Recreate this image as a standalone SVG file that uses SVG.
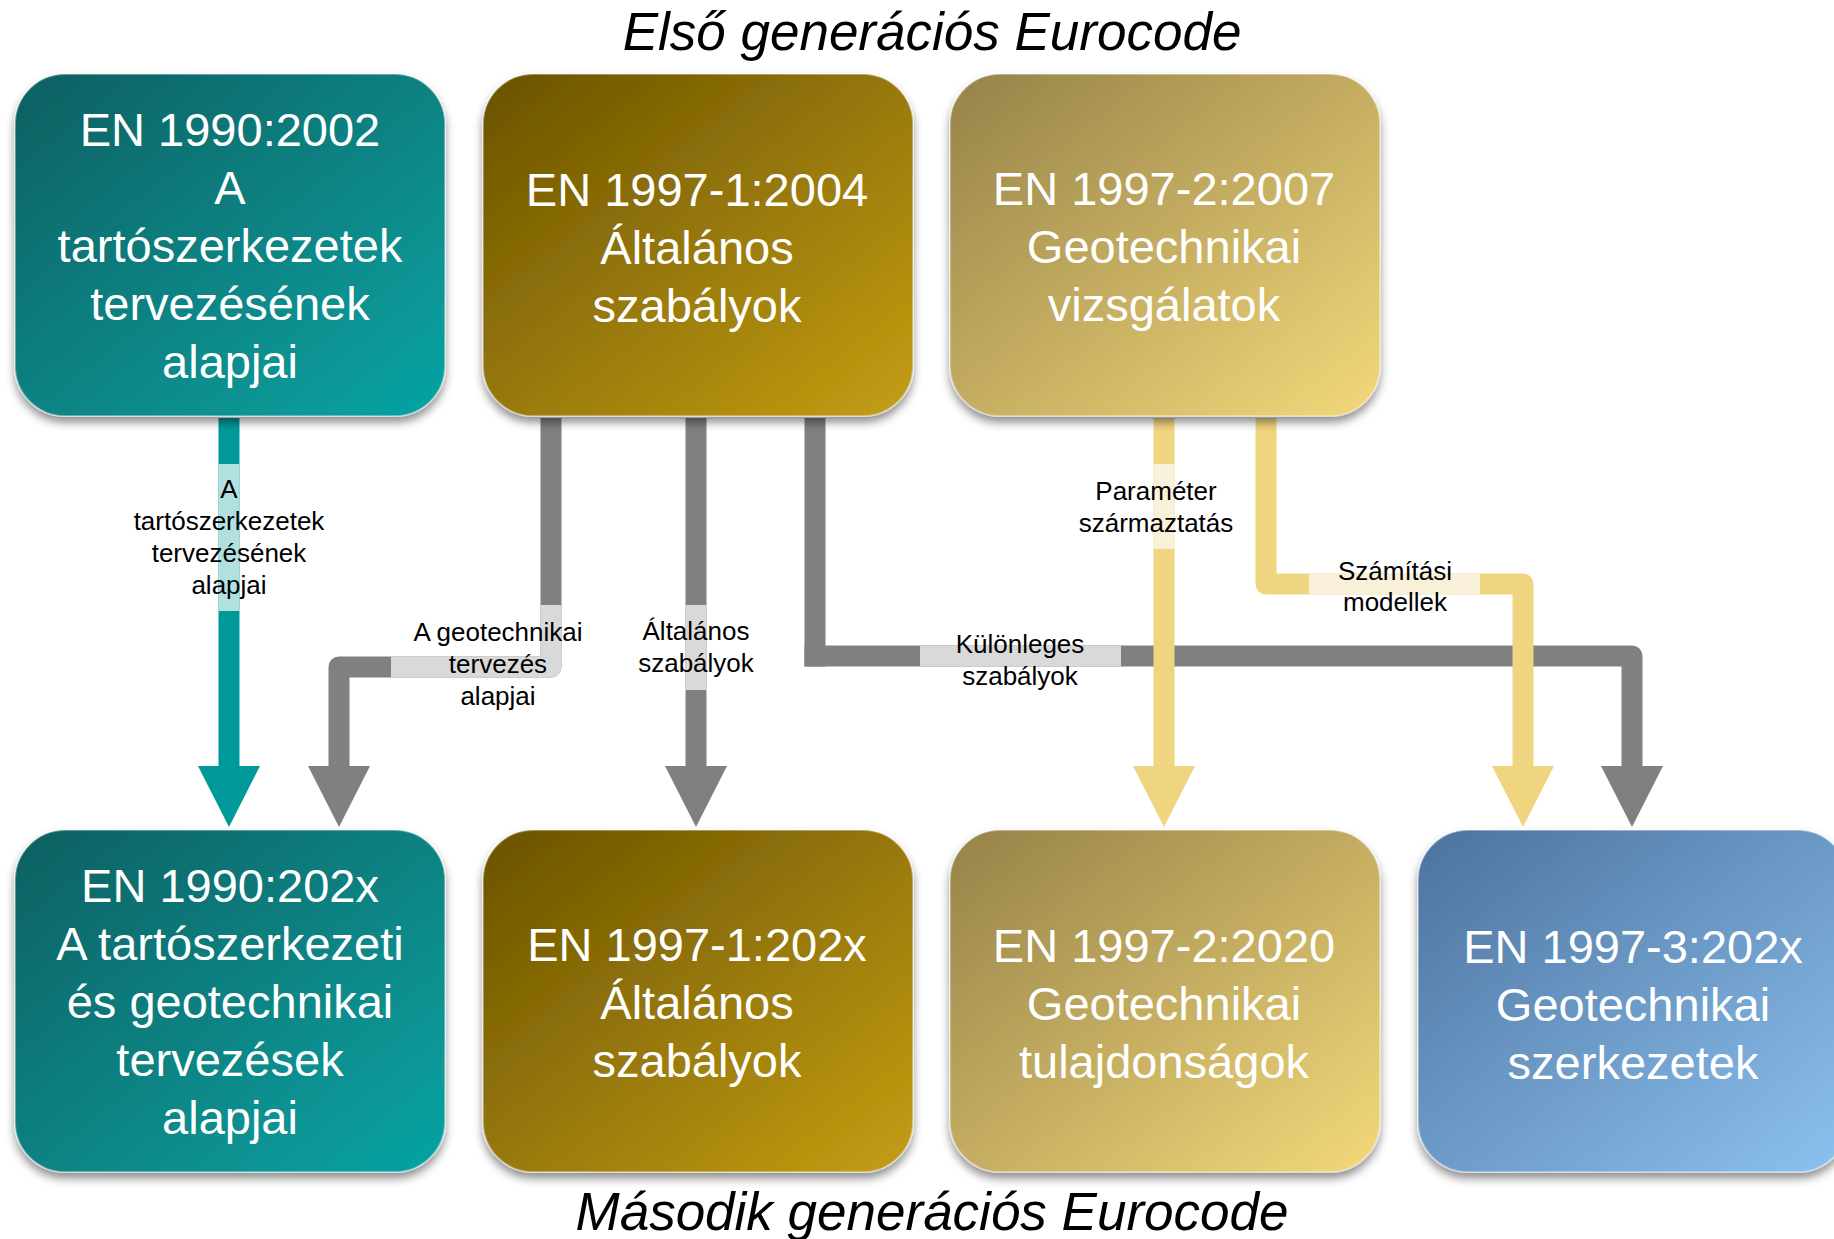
<svg xmlns="http://www.w3.org/2000/svg" width="1834" height="1239" viewBox="0 0 1834 1239">
<style>
.title{font-family:"Liberation Sans",Arial,sans-serif;font-style:italic;font-size:53px;fill:#000;text-anchor:middle}
.nt{font-family:"Liberation Sans",Arial,sans-serif;font-size:47px;fill:#fff;text-anchor:middle}
.lt{font-family:"Liberation Sans",Arial,sans-serif;font-size:26px;fill:#000;text-anchor:middle}
.box{stroke:rgba(255,255,255,0.35);stroke-width:2;filter:url(#sh)}
.c{fill:none;stroke-width:21;stroke-linejoin:round;stroke-linecap:butt}
.teal{stroke:#009999}.grey{stroke:#808080}.yel{stroke:#f0d580}
.lteal{stroke:#b2e0e0}.lgrey{stroke:#d9d9d9}.lyel{stroke:#f9f0da}
</style>
<defs>
<filter id="sh" x="-10%" y="-10%" width="120%" height="125%">
<feDropShadow dx="0" dy="6" stdDeviation="5" flood-color="#000" flood-opacity="0.45"/>
</filter>
<linearGradient id="gTeal" x1="0" y1="0" x2="1" y2="1">
<stop offset="0" stop-color="#0c5f60"/><stop offset="1" stop-color="#06a4a4"/>
</linearGradient>
<linearGradient id="gDark" x1="0" y1="0" x2="1" y2="1">
<stop offset="0" stop-color="#6a5200"/><stop offset="1" stop-color="#c49e14"/>
</linearGradient>
<linearGradient id="gLight" x1="0" y1="0" x2="1" y2="1">
<stop offset="0" stop-color="#958248"/><stop offset="1" stop-color="#f3d87a"/>
</linearGradient>
<linearGradient id="gBlue" x1="0" y1="0" x2="1" y2="1">
<stop offset="0" stop-color="#4d729e"/><stop offset="1" stop-color="#8cc2f0"/>
</linearGradient>
<marker id="aTeal" viewBox="0 0 61 62" refX="0" refY="31" markerWidth="61" markerHeight="62" markerUnits="userSpaceOnUse" orient="auto"><path d="M0,0 L61,31 L0,62 z" fill="#009999"/></marker>
<marker id="aGrey" viewBox="0 0 61 62" refX="0" refY="31" markerWidth="61" markerHeight="62" markerUnits="userSpaceOnUse" orient="auto"><path d="M0,0 L61,31 L0,62 z" fill="#808080"/></marker>
<marker id="aYel" viewBox="0 0 61 62" refX="0" refY="31" markerWidth="61" markerHeight="62" markerUnits="userSpaceOnUse" orient="auto"><path d="M0,0 L61,31 L0,62 z" fill="#f0d580"/></marker>
</defs>
<rect width="1834" height="1239" fill="#fff"/>
<text class="title" x="932" y="50">Első generációs Eurocode</text>
<text class="title" x="932" y="1230">Második generációs Eurocode</text>

<g id="connectors">
<path class="c teal" d="M229,418 V766" marker-end="url(#aTeal)"/>
<path class="c lteal" d="M229,464 V611"/>
<path class="c grey" d="M551,418 V667 H339 V766" marker-end="url(#aGrey)"/>
<path class="c lgrey" d="M551,605 V667 H391"/>
<path class="c grey" d="M696,418 V766" marker-end="url(#aGrey)"/>
<path class="c lgrey" d="M696,605 V690"/>
<path class="c grey" d="M815,418 V666.5"/>
<path class="c grey" d="M804.5,656 H1632 V766" marker-end="url(#aGrey)"/>
<path class="c lgrey" d="M920,656 H1121"/>
<path class="c yel" d="M1164,418 V766" marker-end="url(#aYel)"/>
<path class="c lyel" d="M1164,464 V549"/>
<path class="c yel" d="M1266,418 V584 H1523 V766" marker-end="url(#aYel)"/>
<path class="c lyel" d="M1309,584 H1480"/>
<text class="lt" x="229" y="498">A</text>
<text class="lt" x="229" y="530">tartószerkezetek</text>
<text class="lt" x="229" y="562">tervezésének</text>
<text class="lt" x="229" y="594">alapjai</text>
<text class="lt" x="498" y="641">A geotechnikai</text>
<text class="lt" x="498" y="673">tervezés</text>
<text class="lt" x="498" y="705">alapjai</text>
<text class="lt" x="696" y="640">Általános</text>
<text class="lt" x="696" y="672">szabályok</text>
<text class="lt" x="1020" y="653">Különleges</text>
<text class="lt" x="1020" y="685">szabályok</text>
<text class="lt" x="1156" y="500">Paraméter</text>
<text class="lt" x="1156" y="532">származtatás</text>
<text class="lt" x="1395" y="580">Számítási</text>
<text class="lt" x="1395" y="611">modellek</text>
</g>

<g id="n1">
<rect class="box" x="15" y="74" width="430" height="342" rx="50" fill="url(#gTeal)"/>
<text class="nt" x="230" y="146">EN 1990:2002</text>
<text class="nt" x="230" y="204">A</text>
<text class="nt" x="230" y="262">tartószerkezetek</text>
<text class="nt" x="230" y="320">tervezésének</text>
<text class="nt" x="230" y="378">alapjai</text>
</g>
<g id="n2">
<rect class="box" x="483" y="74" width="430" height="342" rx="50" fill="url(#gDark)"/>
<text class="nt" x="697" y="206">EN 1997-1:2004</text>
<text class="nt" x="697" y="264">Általános</text>
<text class="nt" x="697" y="322">szabályok</text>
</g>
<g id="n3">
<rect class="box" x="950" y="74" width="430" height="342" rx="50" fill="url(#gLight)"/>
<text class="nt" x="1164" y="205">EN 1997-2:2007</text>
<text class="nt" x="1164" y="263">Geotechnikai</text>
<text class="nt" x="1164" y="321">vizsgálatok</text>
</g>
<g id="n4">
<rect class="box" x="15" y="830" width="430" height="342" rx="50" fill="url(#gTeal)"/>
<text class="nt" x="230" y="902">EN 1990:202x</text>
<text class="nt" x="230" y="960">A tartószerkezeti</text>
<text class="nt" x="230" y="1018">és geotechnikai</text>
<text class="nt" x="230" y="1076">tervezések</text>
<text class="nt" x="230" y="1134">alapjai</text>
</g>
<g id="n5">
<rect class="box" x="483" y="830" width="430" height="342" rx="50" fill="url(#gDark)"/>
<text class="nt" x="697" y="961">EN 1997-1:202x</text>
<text class="nt" x="697" y="1019">Általános</text>
<text class="nt" x="697" y="1077">szabályok</text>
</g>
<g id="n6">
<rect class="box" x="950" y="830" width="430" height="342" rx="50" fill="url(#gLight)"/>
<text class="nt" x="1164" y="962">EN 1997-2:2020</text>
<text class="nt" x="1164" y="1020">Geotechnikai</text>
<text class="nt" x="1164" y="1078">tulajdonságok</text>
</g>
<g id="n7">
<rect class="box" x="1418" y="830" width="430" height="342" rx="50" fill="url(#gBlue)"/>
<text class="nt" x="1633" y="963">EN 1997-3:202x</text>
<text class="nt" x="1633" y="1021">Geotechnikai</text>
<text class="nt" x="1633" y="1079">szerkezetek</text>
</g>
</svg>
